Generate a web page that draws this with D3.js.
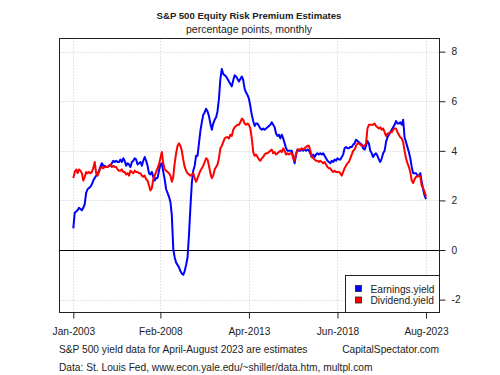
<!DOCTYPE html>
<html lang="en">
<head>
  <meta charset="UTF-8">
  <title>S&amp;P 500 Equity Risk Premium Estimates</title>
  <script src="https://d3js.org/d3.v7.min.js"></script>
  <style>
    body { margin: 0; background: #fff; }
    svg { display: block; }
    text { font-family: "Liberation Sans", Arial, sans-serif; fill: #222; }
  </style>
</head>
<body>
  <svg width="500" height="375"></svg>
  <script>
  // Monthly values, Jan-2003 .. Aug-2023 (percentage points)
  const earningsYield = [
    // 2003
    0.87, 1.5, 1.55, 1.6, 1.7, 1.65, 1.6, 1.7, 1.85, 2.3, 2.45, 2.5,
    // 2004
    2.55, 2.65, 2.8, 2.9, 3.0, 3.05, 3.2, 3.35, 3.5, 3.4, 3.4, 3.35,
    // 2005
    3.35, 3.4, 3.4, 3.5, 3.6, 3.55, 3.6, 3.55, 3.55, 3.65, 3.55, 3.7,
    // 2006
    3.6, 3.4, 3.5, 3.45, 3.35, 3.55, 3.6, 3.7, 3.65, 3.45, 3.5, 3.55,
    // 2007
    3.4, 3.6, 3.75, 3.6, 3.4, 3.1, 3.05, 3.15, 2.95, 2.8, 2.9, 2.9,
    // 2008
    3.2, 3.45, 3.5, 3.15, 2.85, 2.45, 2.3, 2.15, 1.95, 1.4, 0.05, -0.3,
    // 2009
    -0.5, -0.6, -0.7, -0.85, -0.95, -1.0, -0.85, -0.6, -0.3, 0.6, 1.7, 2.7,
    // 2010
    3.2, 3.4, 3.8, 3.8, 4.3, 4.8, 5.15, 5.45, 5.55, 5.7, 5.6, 5.4,
    // 2011
    5.1, 4.85, 5.1, 5.25, 5.35, 5.6, 6.1, 6.9, 7.3, 7.1, 7.05, 7.0,
    // 2012
    6.9, 6.8, 6.7, 6.6, 6.85, 7.05, 7.0, 6.9, 6.8, 6.9, 7.0, 6.85,
    // 2013
    6.5, 6.35, 6.25, 6.1, 5.8, 5.45, 5.2, 5.0, 5.1, 5.1, 5.0, 4.9,
    // 2014
    4.85, 4.9, 4.85, 4.9, 4.95, 5.0, 5.05, 5.15, 5.05, 4.95, 4.7, 4.6,
    // 2015
    4.65, 4.5, 4.65, 4.5, 4.3, 4.1, 4.0, 4.0, 4.0, 4.0, 3.75, 3.5,
    // 2016
    3.85, 4.05, 4.0, 4.0, 4.05, 4.0, 4.05, 4.0, 4.05, 4.0, 3.9, 3.75,
    // 2017
    3.85, 3.75, 3.85, 3.9, 3.85, 3.9, 3.85, 3.9, 3.8, 3.7, 3.6, 3.55,
    // 2018
    3.5, 3.6, 3.55, 3.65, 3.6, 3.7, 3.65, 3.65, 3.75, 3.85, 4.1, 4.15,
    // 2019
    4.1, 4.1, 4.15, 4.15, 4.25, 4.3, 4.45, 4.4, 4.35, 4.3, 4.25, 4.1,
    // 2020
    4.05, 4.2, 4.4, 4.3, 4.0, 3.9, 3.75, 3.85, 3.9, 3.8, 3.65, 3.55,
    // 2021
    3.7, 3.9, 4.0, 4.35, 4.55, 4.65, 4.75, 4.85, 4.95, 5.05, 5.2, 5.1,
    // 2022
    5.1, 5.15, 5.05, 5.25, 4.55, 4.35, 4.15, 3.95, 3.7, 3.35, 3.1, 3.1,
    // 2023
    3.1, 3.0, 3.0, 3.1, 2.75, 2.45, 2.2, 2.05
  ];

  const dividendYield = [
    // 2003
    2.9, 3.15, 3.25, 3.1, 3.25, 3.2, 3.1, 2.8, 2.95, 3.15, 3.1, 3.15,
    // 2004
    3.1, 3.15, 3.3, 3.55, 3.1, 3.0, 3.15, 3.3, 3.35, 3.3, 3.35, 3.35,
    // 2005
    3.35, 3.4, 3.45, 3.35, 3.4, 3.35, 3.35, 3.25, 3.2, 3.2, 3.25, 3.15,
    // 2006
    3.15, 3.05, 3.1, 3.0, 3.2, 3.15, 3.1, 3.2, 3.15, 3.15, 3.1, 3.1,
    // 2007
    3.0, 2.95, 3.0, 2.85, 2.8, 2.6, 2.4, 2.5, 2.85, 3.0, 3.15, 3.3,
    // 2008
    3.45, 3.7, 3.95, 3.5, 3.25, 3.2, 3.15, 3.1, 3.0, 2.75, 2.95, 3.5,
    // 2009
    3.9, 4.2, 4.3, 4.2, 4.0, 3.65, 3.35, 3.2, 3.1, 3.05, 3.0, 3.05,
    // 2010
    3.1, 2.9, 2.75, 2.9, 3.05, 3.2, 3.3, 3.4, 3.55, 3.7, 3.65, 3.4,
    // 2011
    3.1, 2.9, 3.0, 3.25, 3.35, 3.45, 3.7, 4.1, 4.2, 4.35, 4.5, 4.55,
    // 2012
    4.55, 4.5, 4.65, 4.6, 4.85, 4.95, 5.0, 5.05, 5.05, 5.15, 5.3, 5.25,
    // 2013
    5.1, 5.05, 5.1, 5.05, 4.9, 4.5, 3.95, 3.8, 3.85, 3.75, 3.65, 3.6,
    // 2014
    3.7, 3.75, 3.85, 3.9, 3.9, 3.95, 4.0, 4.05, 3.9, 3.95, 3.85, 3.9,
    // 2015
    3.95, 4.0, 3.95, 4.1, 4.0, 3.85, 3.9, 3.85, 3.9, 3.9, 3.7, 3.6,
    // 2016
    3.9, 4.05, 4.05, 4.05, 4.1, 4.05, 4.1, 4.15, 4.2, 4.2, 4.0, 3.75,
    // 2017
    3.7, 3.65, 3.6, 3.6, 3.55, 3.6, 3.55, 3.5, 3.55, 3.45, 3.35, 3.3,
    // 2018
    3.3, 3.2, 3.15, 3.2, 3.15, 3.15, 3.15, 3.1, 3.0, 3.15, 3.3, 3.4,
    // 2019
    3.5, 3.55, 3.7, 3.85, 4.0, 4.05, 4.2, 4.3, 4.3, 4.25, 4.2, 4.2,
    // 2020
    4.2, 4.3, 4.9, 5.05, 5.05, 5.05, 5.05, 5.1, 5.0, 4.95, 4.9, 4.95,
    // 2021
    4.85, 4.9, 4.75, 4.6, 4.7, 4.7, 4.75, 4.75, 4.85, 4.9, 4.9, 4.75,
    // 2022
    4.65, 4.55, 4.5, 4.35, 4.0, 3.7, 3.5, 3.35, 3.15, 2.8, 2.7, 2.85,
    // 2023
    2.95, 2.95, 3.0, 2.95, 2.6, 2.5, 2.35, 2.15
  ];

  // x ticks: month index from Jan-2003
  const xTickMonths = [0, 61, 123, 185, 247];
  const xTickLabels = ["Jan-2003", "Feb-2008", "Apr-2013", "Jun-2018", "Aug-2023"];
  const yTicks = [-2, 0, 2, 4, 6, 8];
  const seriesNames = ["Earnings.yield", "Dividend.yield"];
  const seriesColors = ["#0000ff", "#ff0000"];

  const svg = d3.select("svg");

  // plot box
  const box = { left: 59.5, right: 439.5, top: 38.5, bottom: 312.5 };

  const x = d3.scaleLinear().domain([0, 247]).range([73.3, 426]);
  const y = d3.scaleLinear().domain([-2.52, 8.53]).range([box.bottom, box.top]);

  // grid lines
  svg.append("g").selectAll("line.gy")
    .data(yTicks.filter(d => d !== 0))
    .enter().append("line")
    .attr("x1", box.left).attr("x2", box.right)
    .attr("y1", d => Math.round(y(d)) + 0.5).attr("y2", d => Math.round(y(d)) + 0.5)
    .attr("stroke", "#c8c8c8").attr("stroke-dasharray", "1,2");

  svg.append("g").selectAll("line.gx")
    .data(xTickMonths)
    .enter().append("line")
    .attr("x1", d => Math.round(x(d)) + 0.5).attr("x2", d => Math.round(x(d)) + 0.5)
    .attr("y1", box.top).attr("y2", box.bottom)
    .attr("stroke", "#c8c8c8").attr("stroke-dasharray", "1,2");

  // zero line
  svg.append("line")
    .attr("x1", box.left).attr("x2", box.right)
    .attr("y1", Math.round(y(0)) + 0.5).attr("y2", Math.round(y(0)) + 0.5)
    .attr("stroke", "#000").attr("stroke-width", 1);

  // series lines
  const line = d3.line().x((d, i) => x(i)).y(d => y(d));
  [earningsYield, dividendYield].forEach((vals, k) => {
    svg.append("path")
      .datum(vals)
      .attr("fill", "none")
      .attr("stroke", seriesColors[k])
      .attr("stroke-width", 2)
      .attr("stroke-linejoin", "round")
      .attr("d", line);
  });

  // border
  svg.append("rect")
    .attr("x", box.left).attr("y", box.top)
    .attr("width", box.right - box.left).attr("height", box.bottom - box.top)
    .attr("fill", "none").attr("stroke", "#222");

  // axes
  const xAxis = svg.append("g")
    .attr("transform", `translate(0,${box.bottom})`)
    .call(d3.axisBottom(x).tickValues(xTickMonths)
      .tickFormat((d, i) => xTickLabels[i]).tickSize(6).tickPadding(9));
  xAxis.select(".domain").remove();
  xAxis.selectAll("line").attr("stroke", "#222");
  xAxis.selectAll("text").style("font-size", "10.2px").attr("fill", "#222");

  const yAxis = svg.append("g")
    .attr("transform", `translate(${box.right},0)`)
    .call(d3.axisRight(y).tickValues(yTicks).tickSize(6).tickPadding(6));
  yAxis.select(".domain").remove();
  yAxis.selectAll("line").attr("stroke", "#222");
  yAxis.selectAll("text").style("font-size", "10.2px").attr("fill", "#222")
    .text(d => d < 0 ? "-" + Math.abs(d) : d);

  // legend
  const leg = svg.append("g");
  leg.append("rect")
    .attr("x", 345.5).attr("y", 275.5)
    .attr("width", box.right - 345.5).attr("height", box.bottom - 275.5)
    .attr("fill", "#fff").attr("stroke", "#222");
  seriesNames.forEach((name, i) => {
    leg.append("rect")
      .attr("x", 355.5).attr("y", 285.5 + i * 11.5)
      .attr("width", 6).attr("height", 6)
      .attr("fill", seriesColors[i]).attr("stroke", "#222").attr("stroke-width", 0.8);
    leg.append("text")
      .attr("x", 370.5).attr("y", 292.5 + i * 11.5)
      .style("font-size", "10.2px")
      .text(name);
  });

  // titles
  svg.append("text")
    .attr("x", 249).attr("y", 19)
    .attr("text-anchor", "middle")
    .style("font-size", "9.6px").style("font-weight", "bold")
    .text("S&P 500 Equity Risk Premium Estimates");
  svg.append("text")
    .attr("x", 249).attr("y", 33)
    .attr("text-anchor", "middle")
    .style("font-size", "10.5px")
    .text("percentage points, monthly");

  // footer notes
  svg.append("text")
    .attr("x", 59).attr("y", 352.5)
    .style("font-size", "10.2px")
    .text("S&P 500 yield data for April-August 2023 are estimates");
  svg.append("text")
    .attr("x", 439).attr("y", 352.5)
    .attr("text-anchor", "end")
    .style("font-size", "10.2px")
    .text("CapitalSpectator.com");
  svg.append("text")
    .attr("x", 59).attr("y", 370.5)
    .style("font-size", "10.2px")
    .text("Data: St. Louis Fed, www.econ.yale.edu/~shiller/data.htm, multpl.com");
  </script>
</body>
</html>
